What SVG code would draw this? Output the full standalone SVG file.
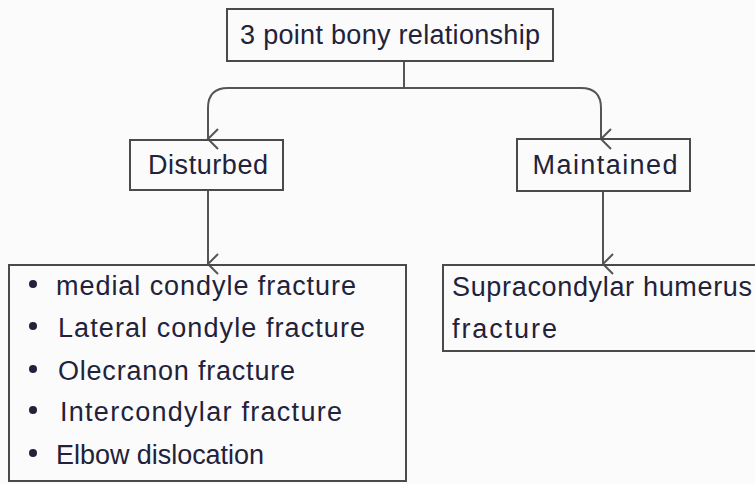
<svg xmlns="http://www.w3.org/2000/svg" width="755" height="484" viewBox="0 0 755 484">
<defs>
<style>
.box{fill:none;stroke:#4a4a4a;stroke-width:2}
.t{font-family:"Liberation Sans","DejaVu Sans",sans-serif;font-size:27px;fill:#22223a}
.c{fill:none;stroke:#555;stroke-width:2}
</style>
<marker id="ah" viewBox="0 0 24 24" refX="12" refY="22" markerWidth="24" markerHeight="24" markerUnits="userSpaceOnUse" orient="auto-start-reverse">
<path d="M2,12 L12,22 L22,12" fill="none" stroke="#555" stroke-width="2"/>
</marker>
</defs>
<rect width="755" height="484" fill="#fbfbfb"/>
<g id="connectors">
<path class="c" d="M404,61 V88 H228 Q208,88 208,108 V139" marker-end="url(#ah)"/>
<path class="c" d="M404,88 H581 Q601,88 601,108 V139" marker-end="url(#ah)"/>
<path class="c" d="M208,190 V264" marker-end="url(#ah)"/>
<path class="c" d="M603,191 V264" marker-end="url(#ah)"/>
</g>
<g id="root">
<rect class="box" x="227" y="9" width="326" height="52"/>
<text class="t" x="390" y="44" text-anchor="middle" textLength="300">3 point bony relationship</text>
</g>
<g id="disturbed">
<rect class="box" x="130" y="140" width="153" height="50"/>
<text class="t" x="208" y="174" text-anchor="middle" textLength="120">Disturbed</text>
</g>
<g id="maintained">
<rect class="box" x="517" y="139" width="173" height="52"/>
<text class="t" x="605" y="174" text-anchor="middle" textLength="145">Maintained</text>
</g>
<g id="disturbed-list">
<rect class="box" x="9" y="265" width="397" height="216"/>
<g fill="#22223a">
<circle cx="33" cy="284" r="4"/>
<circle cx="33" cy="326" r="4"/>
<circle cx="33" cy="369" r="4"/>
<circle cx="33" cy="410" r="4"/>
<circle cx="33" cy="453" r="4"/>
</g>
<text class="t" x="56" y="295" textLength="300">medial condyle fracture</text>
<text class="t" x="58" y="337" textLength="307">Lateral condyle fracture</text>
<text class="t" x="58" y="380" textLength="237">Olecranon fracture</text>
<text class="t" x="60" y="421" textLength="282">Intercondylar fracture</text>
<text class="t" x="56" y="464" textLength="208">Elbow dislocation</text>
</g>
<g id="maintained-result">
<rect class="box" x="443" y="265" width="320" height="86"/>
<text class="t" x="452" y="296" textLength="300">Supracondylar humerus</text>
<text class="t" x="452" y="338" textLength="105">fracture</text>
</g>
</svg>
